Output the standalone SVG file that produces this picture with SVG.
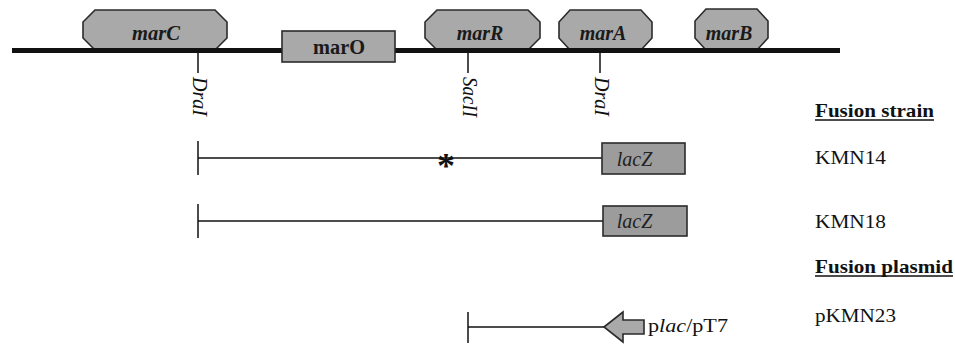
<svg xmlns="http://www.w3.org/2000/svg" width="955" height="344" viewBox="0 0 955 344">
<style>
.gene{fill:#a9a9a9;stroke:#2b2b2b;stroke-width:1.6}
.box{fill:#9c9c9c;stroke:#2b2b2b;stroke-width:1.6}
.gl{font-family:"Liberation Serif","Times New Roman",serif;font-size:20px;font-weight:bold;font-style:italic;fill:#1a1a1a;text-anchor:middle}
.gb{font-family:"Liberation Serif","Times New Roman",serif;font-size:20px;font-weight:bold;fill:#1a1a1a;text-anchor:middle}
.site{font-family:"Liberation Serif","Times New Roman",serif;font-size:20px;font-style:italic;fill:#111}
.lz{font-family:"Liberation Serif","Times New Roman",serif;font-size:20px;font-style:italic;fill:#222;text-anchor:middle}
.lab{font-family:"Liberation Serif","Times New Roman",serif;font-size:19px;fill:#111}
.hd{font-family:"Liberation Serif","Times New Roman",serif;font-size:19px;font-weight:bold;fill:#111}
.tk{stroke:#111;stroke-width:1.5;fill:none}
.ln{stroke:#111;stroke-width:1.4;fill:none}
</style>
<g id="genes-under">
<g id="marC"><polygon class="gene" points="95,10 215,10 227,22 227,38 215,50 95,50 83,38 83,22"/><text class="gl" x="156" y="40" textLength="48" lengthAdjust="spacingAndGlyphs">marC</text></g>
<g id="marR"><polygon class="gene" points="437,10 528,10 540,22 540,38 528,50 437,50 425,38 425,22"/><text class="gl" x="480" y="40">marR</text></g>
<g id="marA"><polygon class="gene" points="570,10 641,10 652,22 652,38 641,50 570,50 559,38 559,22"/><text class="gl" x="603" y="40">marA</text></g>
<g id="marB"><polygon class="gene" points="706,9 757,9 768,21 768,38 757,50 706,50 695,38 695,21"/><text class="gl" x="729" y="40">marB</text></g>
</g>
<g id="connectors">
<rect x="12" y="48" width="828" height="5" fill="#111"/>
<line class="tk" x1="198" y1="53" x2="198" y2="73"/>
<line class="tk" x1="468" y1="53" x2="468" y2="73"/>
<line class="tk" x1="600" y1="53" x2="600" y2="73"/>
<line class="tk" x1="198" y1="141" x2="198" y2="175"/>
<line class="ln" x1="198" y1="158" x2="602" y2="158"/>
<line class="tk" x1="198" y1="204" x2="198" y2="238"/>
<line class="ln" x1="198" y1="221" x2="603" y2="221"/>
<line class="tk" x1="468" y1="312" x2="468" y2="343"/>
<line class="ln" x1="468" y1="327" x2="606" y2="327"/>
</g>
<g id="marO"><rect class="gene" x="282" y="31" width="113" height="31"/><text class="gb" x="339" y="54" textLength="52" lengthAdjust="spacingAndGlyphs">marO</text></g>
<g id="sites">
<text class="site" transform="translate(193,77) rotate(90)">DraI</text>
<text class="site" transform="translate(463,77) rotate(90)" textLength="40" lengthAdjust="spacingAndGlyphs">SacII</text>
<text class="site" transform="translate(595,77) rotate(90)">DraI</text>
</g>
<g id="KMN14-fusion">
<text x="446" y="178" font-family="Liberation Serif, serif" font-weight="bold" font-size="36" text-anchor="middle" fill="#111">*</text>
<rect class="box" x="602" y="143" width="83" height="31"/>
<text class="lz" x="634.5" y="166">lacZ</text>
</g>
<g id="KMN18-fusion">
<rect class="box" x="603" y="206" width="84" height="30"/>
<text class="lz" x="634.5" y="228">lacZ</text>
</g>
<g id="pKMN23-fusion">
<polygon class="gene" points="604,327 623,312 623,320 644,320 644,334 623,334 623,342"/>
<text class="lab" x="648" y="332" textLength="80" lengthAdjust="spacingAndGlyphs">p<tspan font-style="italic">lac</tspan>/pT7</text>
</g>
<g id="labels">
<text class="hd" x="815" y="117" textLength="119" lengthAdjust="spacingAndGlyphs">Fusion strain</text>
<line x1="815" y1="120" x2="934" y2="120" stroke="#111" stroke-width="1.5"/>
<text class="lab" x="815" y="164" textLength="71" lengthAdjust="spacingAndGlyphs">KMN14</text>
<text class="lab" x="815" y="228" textLength="71" lengthAdjust="spacingAndGlyphs">KMN18</text>
<text class="hd" x="815" y="273" textLength="138" lengthAdjust="spacingAndGlyphs">Fusion plasmid</text>
<line x1="815" y1="276" x2="953" y2="276" stroke="#111" stroke-width="1.5"/>
<text class="lab" x="815" y="322" textLength="81" lengthAdjust="spacingAndGlyphs">pKMN23</text>
</g>
</svg>
